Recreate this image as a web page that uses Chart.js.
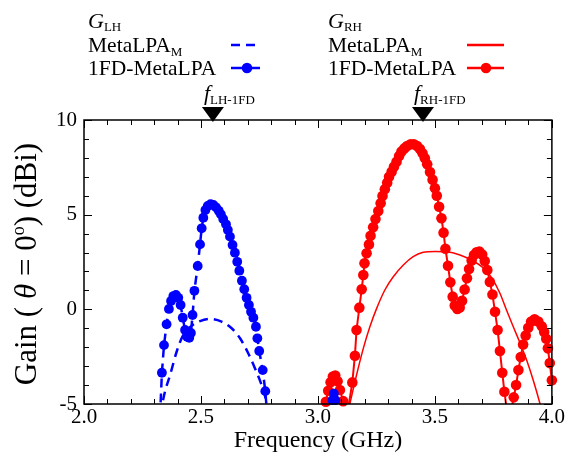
<!DOCTYPE html>
<html><head><meta charset="utf-8">
<script src="https://cdn.jsdelivr.net/npm/chart.js@4/dist/chart.umd.min.js"></script>
<style>html,body{margin:0;padding:0;background:#fff;}#wrap{width:566px;height:457px;}</style>
</head><body><div id="wrap"><canvas id="c" width="566" height="457"></canvas></div>
<script>
// ---------- data ----------
const lh1fdFreq = [2.322, 2.333, 2.342, 2.353, 2.363, 2.372, 2.382, 2.393, 2.403, 2.413, 2.422, 2.432, 2.441, 2.450, 2.457, 2.464, 2.472, 2.486, 2.496, 2.503, 2.510, 2.519, 2.529, 2.541, 2.553, 2.564, 2.576, 2.585, 2.595, 2.607, 2.615, 2.624, 2.635, 2.645, 2.655, 2.664, 2.675, 2.685, 2.695, 2.705, 2.714, 2.724, 2.735, 2.741, 2.749, 2.764, 2.775, 2.786, 3.052, 3.062, 3.068, 3.075, 3.084];
const lh1fdGain = [-6.5, -3.35, -1.89, -0.79, 0.02, 0.44, 0.70, 0.76, 0.61, 0.23, -0.44, -1.09, -1.45, -1.50, -1.25, -0.30, 0.98, 2.29, 3.43, 4.28, 4.84, 5.25, 5.46, 5.55, 5.51, 5.39, 5.21, 5.02, 4.77, 4.49, 4.19, 3.84, 3.40, 2.99, 2.51, 2.04, 1.51, 1.06, 0.61, 0.23, -0.13, -0.44, -0.92, -1.53, -2.20, -3.21, -4.32, -6.0, -5.6, -4.8, -4.45, -4.8, -5.6];

const lhMFreq = [2.328, 2.335, 2.346, 2.368, 2.396, 2.424, 2.460, 2.496, 2.538, 2.588, 2.631, 2.667, 2.702, 2.731, 2.759, 2.780, 2.790];
const lhMGain = [-5.6, -5.0, -4.35, -3.47, -2.24, -1.36, -0.87, -0.62, -0.51, -0.65, -1.0, -1.53, -2.32, -3.12, -4.0, -4.88, -5.5];

const rh1fdFreq = [3.022, 3.034, 3.044, 3.054, 3.064, 3.074, 3.084, 3.094, 3.108, 3.126, 3.147, 3.158, 3.165, 3.177, 3.187, 3.194, 3.199, 3.208, 3.218, 3.225, 3.236, 3.246, 3.258, 3.268, 3.276, 3.286, 3.296, 3.304, 3.315, 3.325, 3.336, 3.347, 3.357, 3.369, 3.381, 3.396, 3.410, 3.424, 3.436, 3.447, 3.457, 3.467, 3.479, 3.490, 3.500, 3.508, 3.518, 3.528, 3.537, 3.545, 3.556, 3.566, 3.576, 3.585, 3.596, 3.606, 3.616, 3.627, 3.637, 3.646, 3.657, 3.667, 3.678, 3.690, 3.702, 3.713, 3.724, 3.735, 3.746, 3.757, 3.768, 3.778, 3.788, 3.797, 3.815, 3.837, 3.847, 3.857, 3.867, 3.877, 3.888, 3.899, 3.911, 3.926, 3.942, 3.957, 3.967, 3.976, 3.983, 3.991, 4.0];
const rh1fdGain = [-5.6, -4.88, -4.3, -3.85, -3.55, -3.5, -3.8, -4.26, -4.85, -5.5, -3.86, -2.45, -1.09, 0.09, 1.06, 1.81, 2.43, 2.96, 3.43, 3.89, 4.33, 4.77, 5.19, 5.60, 5.99, 6.34, 6.69, 7.00, 7.27, 7.53, 7.80, 8.10, 8.33, 8.50, 8.63, 8.72, 8.72, 8.63, 8.47, 8.24, 7.98, 7.66, 7.25, 6.85, 6.4, 6.0, 5.42, 4.81, 4.05, 3.2, 2.3, 1.43, 0.67, 0.2, 0.02, 0.1, 0.45, 1.05, 1.64, 2.13, 2.58, 2.87, 3.01, 3.05, 2.9, 2.55, 2.08, 1.45, 0.78, -0.13, -1.09, -2.2, -3.35, -4.35, -6.0, -4.65, -4.0, -3.21, -2.52, -1.86, -1.38, -0.97, -0.65, -0.52, -0.64, -0.9, -1.2, -1.55, -2.06, -2.84, -3.75];

const rhMFreq = [3.128, 3.137, 3.165, 3.194, 3.222, 3.251, 3.286, 3.322, 3.365, 3.407, 3.450, 3.500, 3.550, 3.607, 3.664, 3.706, 3.738, 3.778, 3.806, 3.835, 3.863, 3.892, 3.920, 3.949, 3.960];
const rhMGain = [-5.5, -4.97, -3.47, -2.06, -0.92, 0.05, 1.02, 1.72, 2.34, 2.78, 3.01, 3.06, 3.04, 2.87, 2.55, 2.2, 1.75, 0.85, -0.04, -0.92, -1.75, -2.68, -3.73, -4.97, -5.5];

const markerFreqs = [2.551, 3.449];
const markerSubs = ['LH-1FD', 'RH-1FD'];

const xTickValues = [2.0, 2.5, 3.0, 3.5, 4.0];
const xTickLabels = ['2.0', '2.5', '3.0', '3.5', '4.0'];
const yTickValues = [-5, 0, 5, 10];
const yTickLabels = ['-5', '0', '5', '10'];

// ---------- helpers ----------
const FONT = "'Liberation Serif', 'Times New Roman', serif";
const BLUE = '#0000FF', RED = '#FF0000';
const pts = (xs, ys) => xs.map((x, i) => ({x: x, y: ys[i]}));
const visiblePts = (xs, ys) => pts(xs, ys).filter(p => p.y >= -5.3);

function richText(ctx, parts, x, y) {
  let cx = x;
  for (const p of parts) {
    ctx.font = (p.italic ? 'italic ' : '') + p.size + 'px ' + FONT;
    ctx.fillText(p.t, cx, y + (p.dy || 0));
    cx += ctx.measureText(p.t).width;
  }
  return cx - x;
}
function richWidth(ctx, parts) {
  let w = 0;
  for (const p of parts) {
    ctx.font = (p.italic ? 'italic ' : '') + p.size + 'px ' + FONT;
    w += ctx.measureText(p.t).width;
  }
  return w;
}

const decorPlugin = {
  id: 'decor',
  afterDatasetsDraw(chart) {
    const ctx = chart.ctx, a = chart.chartArea;
    const xs = chart.scales.x, ys = chart.scales.y;
    ctx.save();
    // frame
    ctx.strokeStyle = '#000';
    ctx.lineWidth = 1.5;
    ctx.strokeRect(a.left, a.top, a.right - a.left, a.bottom - a.top);
    // ticks
    ctx.lineWidth = 1;
    ctx.beginPath();
    for (let k = 0; k <= 20; k++) {
      const v = 2 + k * 0.1;
      const px = Math.round(xs.getPixelForValue(v)) + 0.5;
      const len = (k % 5 === 0) ? 8 : 5;
      ctx.moveTo(px, a.bottom); ctx.lineTo(px, a.bottom - len);
      ctx.moveTo(px, a.top); ctx.lineTo(px, a.top + len);
    }
    for (let k = -5; k <= 10; k++) {
      const py = Math.round(ys.getPixelForValue(k)) + 0.5;
      const len = (k % 5 === 0) ? 8 : 5;
      ctx.moveTo(a.left, py); ctx.lineTo(a.left + len, py);
      ctx.moveTo(a.right, py); ctx.lineTo(a.right - len, py);
    }
    ctx.stroke();

    ctx.fillStyle = '#000';
    ctx.textBaseline = 'alphabetic';
    ctx.textAlign = 'left';
    // frequency markers
    markerFreqs.forEach((f, i) => {
      const px = xs.getPixelForValue(f);
      ctx.beginPath();
      ctx.moveTo(px - 11, a.top - 13);
      ctx.lineTo(px + 11, a.top - 13);
      ctx.lineTo(px, a.top + 2);
      ctx.closePath();
      ctx.fill();
      richText(ctx, [{t: 'f', size: 22, italic: true}, {t: markerSubs[i], size: 13, dy: 4}], px - 9, a.top - 20);
    });

    // legend
    const L = 88, R = 328;
    const rows = [28, 52, 75];
    richText(ctx, [{t: 'G', size: 22, italic: true}, {t: 'LH', size: 13, dy: 3}], L, rows[0]);
    richText(ctx, [{t: 'G', size: 22, italic: true}, {t: 'RH', size: 13, dy: 3}], R, rows[0]);
    richText(ctx, [{t: 'MetaLPA', size: 21.5}, {t: 'M', size: 13, dy: 4}], L, rows[1]);
    richText(ctx, [{t: 'MetaLPA', size: 21.5}, {t: 'M', size: 13, dy: 4}], R, rows[1]);
    richText(ctx, [{t: '1FD-MetaLPA', size: 21.5}], L, rows[2]);
    richText(ctx, [{t: '1FD-MetaLPA', size: 21.5}], R, rows[2]);
    // legend samples
    ctx.lineWidth = 2.5;
    ctx.strokeStyle = BLUE;
    ctx.setLineDash([9, 6]);
    ctx.beginPath(); ctx.moveTo(231, rows[1] - 7); ctx.lineTo(260, rows[1] - 7); ctx.stroke();
    ctx.setLineDash([]);
    ctx.beginPath(); ctx.moveTo(231, rows[2] - 7); ctx.lineTo(260, rows[2] - 7); ctx.stroke();
    ctx.fillStyle = BLUE;
    ctx.beginPath(); ctx.arc(247, rows[2] - 7, 5.3, 0, Math.PI * 2); ctx.fill();
    ctx.strokeStyle = RED;
    ctx.beginPath(); ctx.moveTo(467, rows[1] - 7); ctx.lineTo(504, rows[1] - 7); ctx.stroke();
    ctx.beginPath(); ctx.moveTo(467, rows[2] - 7); ctx.lineTo(504, rows[2] - 7); ctx.stroke();
    ctx.fillStyle = RED;
    ctx.beginPath(); ctx.arc(486, rows[2] - 7, 5.3, 0, Math.PI * 2); ctx.fill();

    // axis titles
    ctx.fillStyle = '#000';
    const xt = [{t: 'Frequency (GHz)', size: 24}];
    richText(ctx, xt, (a.left + a.right) / 2 - richWidth(ctx, xt) / 2, 447);
    const yt = [{t: 'Gain ( ', size: 31}, {t: 'θ', size: 31, italic: true}, {t: ' = 0', size: 31}, {t: 'o', size: 18, dy: -12}, {t: ') (dBi)', size: 31}];
    ctx.translate(36, (a.top + a.bottom) / 2 + 2);
    ctx.rotate(-Math.PI / 2);
    richText(ctx, yt, -richWidth(ctx, yt) / 2, 0);
    ctx.restore();
  }
};

const lineDs = (data, color, width, dash, tension) => ({
  data, borderColor: color, borderWidth: width, borderDash: dash || [],
  pointRadius: 0, showLine: true, fill: false, tension: tension || 0,
  cubicInterpolationMode: tension ? 'monotone' : 'default', clip: 0
});
const dotDs = (data, color, r) => ({
  data, backgroundColor: color, borderColor: color, borderWidth: 0,
  pointRadius: r, pointHoverRadius: r, showLine: false, clip: false
});

new Chart(document.getElementById('c'), {
  type: 'scatter',
  data: {
    datasets: [
      dotDs(visiblePts(lh1fdFreq, lh1fdGain), BLUE, 4.9),
      lineDs(pts(lh1fdFreq, lh1fdGain), BLUE, 2.5, [9, 6]),
      lineDs(pts(lhMFreq, lhMGain), BLUE, 2.5, [9, 6], 0.4),
      dotDs(visiblePts(rh1fdFreq, rh1fdGain), RED, 5.3),
      lineDs(pts(rh1fdFreq, rh1fdGain), RED, 2),
      lineDs(pts(rhMFreq, rhMGain), RED, 1.5, null, 0.4)
    ]
  },
  options: {
    responsive: false,
    animation: false,
    devicePixelRatio: 1,
    layout: {padding: {top: 120, right: 14, left: 0, bottom: 0}},
    plugins: {legend: {display: false}, tooltip: {enabled: false}},
    scales: {
      x: {
        type: 'linear', min: 2, max: 4,
        grid: {display: false, drawTicks: false}, border: {display: false},
        afterBuildTicks: s => { s.ticks = xTickValues.map(v => ({value: v})); },
        afterFit: s => { s.height = 53; },
        ticks: {
          font: {family: FONT, size: 21}, color: '#000', padding: 1, maxRotation: 0, autoSkip: false,
          callback: v => { const i = xTickValues.findIndex(t => Math.abs(t - v) < 1e-6); return i >= 0 ? xTickLabels[i] : ''; }
        }
      },
      y: {
        type: 'linear', min: -5, max: 10,
        grid: {display: false, drawTicks: false}, border: {display: false},
        afterBuildTicks: s => { s.ticks = yTickValues.map(v => ({value: v})); },
        afterFit: s => { s.width = 84; },
        ticks: {
          font: {family: FONT, size: 21}, color: '#000', padding: 7, autoSkip: false,
          callback: v => { const i = yTickValues.indexOf(v); return i >= 0 ? yTickLabels[i] : ''; }
        }
      }
    }
  },
  plugins: [decorPlugin]
});
</script>
</body></html>
